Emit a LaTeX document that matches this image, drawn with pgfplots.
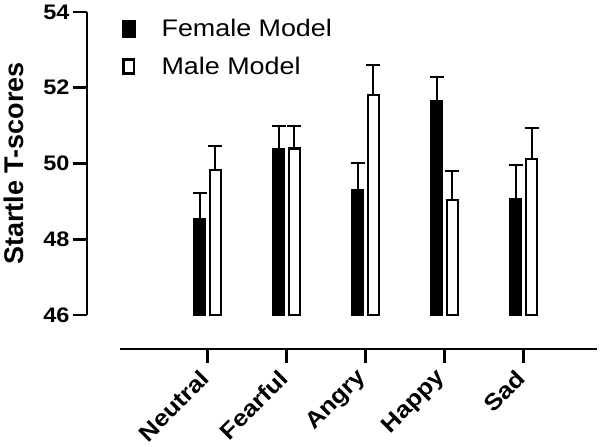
\documentclass[border=0pt]{standalone}
\usepackage{fontspec}
\setmainfont[FakeStretch=1.12]{Liberation Sans}
\newfontfamily\labelfont{Liberation Sans}
\usepackage{pgfplots}
\pgfplotsset{compat=1.18}
\usepackage{pgfplotstable}

% x positions: category index -/+ 0.101 (female / male bar centres)
\pgfplotstableread{
xf xm f ferr m merr
-0.101 0.101 48.53 0.70 49.83 0.62
0.899 1.101 50.38 0.62 50.40 0.60
1.899 2.101 49.30 0.71 51.81 0.79
2.899 3.101 51.64 0.64 49.03 0.78
3.899 4.101 49.07 0.89 50.12 0.83
}\data

\begin{document}
\begin{tikzpicture}
\path[use as bounding box] (-87pt,-132pt) rectangle (513pt,315pt);
\begin{axis}[
  at={(0pt,0pt)}, anchor=south west, scale only axis,
  width=510pt, height=303pt,
  xmin=-1.525, xmax=4.93,
  ymin=0, ymax=8,
  axis x line=none, axis y line=left,
  y axis line style={-, line width=2.7pt},
  ytick={0,2,4,6,8}, yticklabels={46,48,50,52,54},
  tick align=outside, major tick length=14pt,
  ytick style={line width=2.7pt, black},
  yticklabel style={font=\fontsize{21}{21}\selectfont\bfseries},
  ylabel={Startle T-scores},
  ylabel style={font=\labelfont\fontsize{27}{27}\selectfont\bfseries,
    at={(axis description cs:-0.143,0.5)}, anchor=center},
  y filter/.expression={y-46},
  clip=false,
  legend style={at={(axis description cs:0,1)}, anchor=north west,
    xshift=32pt, yshift=-3pt, draw=none, fill=none,
    font=\fontsize{24}{24}\selectfont, row sep=15pt,
    /tikz/every odd column/.append style={column sep=24pt}},
  legend cell align=left,
]
\addlegendimage{legend image code/.code={\fill[black] (0pt,-8.5pt) rectangle (13pt,8.5pt);}}
\addlegendentry{Female Model}
\addlegendimage{legend image code/.code={\draw[black, fill=white, line width=2.6pt] (1.3pt,-7.2pt) rectangle (11.7pt,7.2pt);}}
\addlegendentry{Male Model}
\addplot[forget plot, ybar, bar width=11pt, bar shift=0pt, fill=black, draw=black, line width=2.4pt,
  error bars/.cd, y dir=plus, y explicit,
  error bar style={line width=2pt, black},
  error mark options={rotate=90, line width=2pt, mark size=7pt, black}]
  table[x=xf, y=f, y error=ferr] {\data};
\addplot[forget plot, ybar, bar width=11pt, bar shift=0pt, fill=white, draw=black, line width=2.4pt,
  error bars/.cd, y dir=plus, y explicit,
  error bar style={line width=2pt, black},
  error mark options={rotate=90, line width=2pt, mark size=7pt, black}]
  table[x=xm, y=m, y error=merr] {\data};
\end{axis}
\begin{axis}[
  at={(33pt,-34pt)}, anchor=south west, scale only axis,
  width=477pt, height=10pt,
  xmin=-1.108, xmax=4.93, ymin=0, ymax=1,
  axis x line=bottom, axis y line=none,
  x axis line style={-, line width=2.7pt},
  xtick={0,1,2,3,4}, xticklabels={Neutral,Fearful,Angry,Happy,Sad},
  tick align=outside, major tick length=14pt,
  xtick style={line width=2.7pt, black},
  xticklabel shift=9pt,
  xticklabel style={rotate=45, anchor=east, font=\fontsize{23}{23}\selectfont\bfseries},
]
\addplot[draw=none] coordinates {(0,0.5)};
\end{axis}
\end{tikzpicture}
\end{document}
